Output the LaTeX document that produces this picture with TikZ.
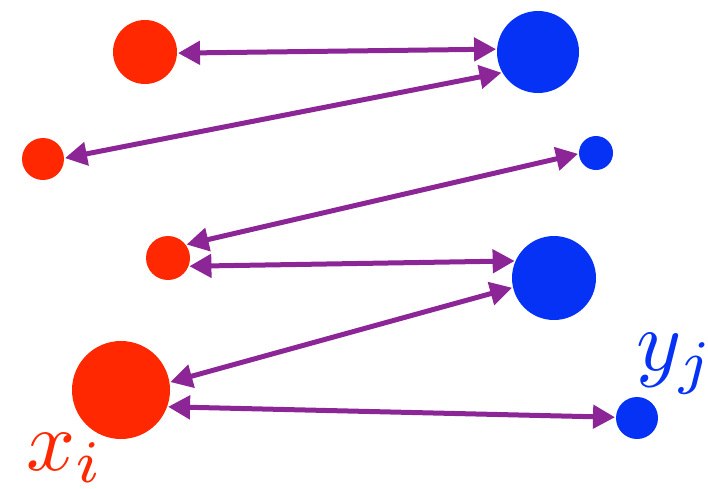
\documentclass[tikz,border=0pt]{standalone}
\usepackage{graphicx}
\usetikzlibrary{arrows.meta}
\definecolor{dotred}{RGB}{255,40,0}
\definecolor{dotblue}{RGB}{5,50,245}
\definecolor{linkpurple}{RGB}{140,38,150}
\begin{document}
\begin{tikzpicture}[x=1pt,y=-1pt,
  reddot/.style={circle,fill=dotred,inner sep=0pt,outer sep=0pt},
  bluedot/.style={circle,fill=dotblue,inner sep=0pt,outer sep=0pt},
  link/.style={draw=linkpurple,line width=5pt,
    {Triangle[length=22pt,width=23pt]}-{Triangle[length=22pt,width=23pt]},
    shorten <=1pt, shorten >=1pt},
  lab/.style={inner sep=0pt,anchor=base west}]
\useasboundingbox (0,0) rectangle (708,488);
\node[reddot,minimum size=64pt] (r1) at (145,52) {};
\node[reddot,minimum size=42pt] (r2) at (43,159) {};
\node[reddot,minimum size=44pt] (r3) at (168,258) {};
\node[reddot,minimum size=98pt] (r4) at (121,390) {};
\node[bluedot,minimum size=82pt] (b1) at (538,52) {};
\node[bluedot,minimum size=34pt] (b2) at (596,153) {};
\node[bluedot,minimum size=84pt] (b3) at (554,278) {};
\node[bluedot,minimum size=42pt] (b4) at (637,418) {};
\draw[link] (r1.358) -- (b1.176);
\draw[link] (r2.2) -- (b1.210);
\draw[link] (r3.37) -- (b2.182);
\draw[link] (r3.-22) -- (b3.156);
\draw[link] (r4.9) -- (b3.193);
\draw[link] (r4.-20) -- (b4.178);
\node[lab,text=dotred] (xl) at (26,470) {\scalebox{8.6}{$x_i$}};
\node[lab,text=dotblue] (yl) at (636,370) {\scalebox{8.6}{$y_j$}};
\end{tikzpicture}
\end{document}
